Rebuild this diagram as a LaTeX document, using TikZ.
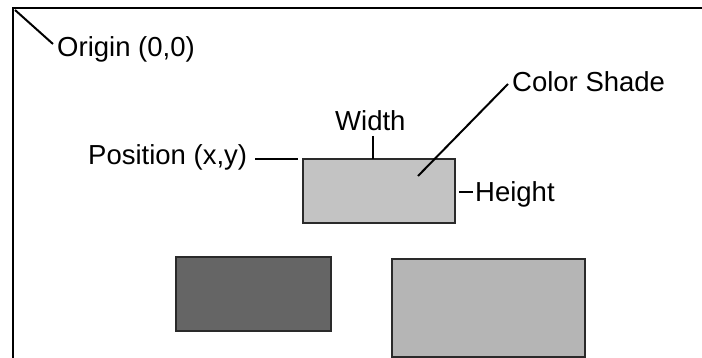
\documentclass[tikz,border=0pt]{standalone}
\usepackage{fontspec}
\setmainfont{Liberation Sans}
\definecolor{frameline}{HTML}{000000}
\definecolor{shadeA}{HTML}{C3C3C3}
\definecolor{shadeB}{HTML}{656565}
\definecolor{shadeC}{HTML}{B5B5B5}
\definecolor{rectedge}{HTML}{2A2A2A}
\begin{document}
\begin{tikzpicture}[x=1pt,y=-1pt,
  lbl/.style={inner sep=0pt,anchor=base west,font=\fontsize{27.5}{30}\selectfont},
  lead/.style={line width=2pt},
  shaded/.style={draw=rectedge,line width=1.6pt}]
\useasboundingbox (0,0) rectangle (702,358);
% window frame (top and left edges)
\draw[line width=2.6pt] (13,358) -- (13,8) -- (702,8);
\coordinate (origin) at (15,10);
% labels
\node[lbl] (orig) at (57,57) {Origin (0,0)};
\node[lbl] (pos) at (88,165) {Position (x,y)};
\node[lbl] (wid) at (335,131) {Width};
\node[lbl] (shade) at (512,92) {Color Shade};
\node[lbl] (hgt) at (475,202) {Height};
% rectangles
\draw[shaded,fill=shadeA] (303,159) rectangle (455,223);
\coordinate (rtl) at (298,159);
\coordinate (rtop) at (373,159);
\coordinate (rright) at (459,192);
\coordinate (rin) at (418,176);
\draw[shaded,fill=shadeB] (176,257) rectangle (331,331);
\draw[shaded,fill=shadeC] (392,259) rectangle (585,357);
% leader lines
\draw[lead] (origin) -- (53,44);
\draw[lead] (255,159) -- (rtl);
\draw[lead] (373,136) -- (rtop);
\draw[lead] (rin) -- (508,84);
\draw[lead] (rright) -- (473,192);
\end{tikzpicture}
\end{document}
